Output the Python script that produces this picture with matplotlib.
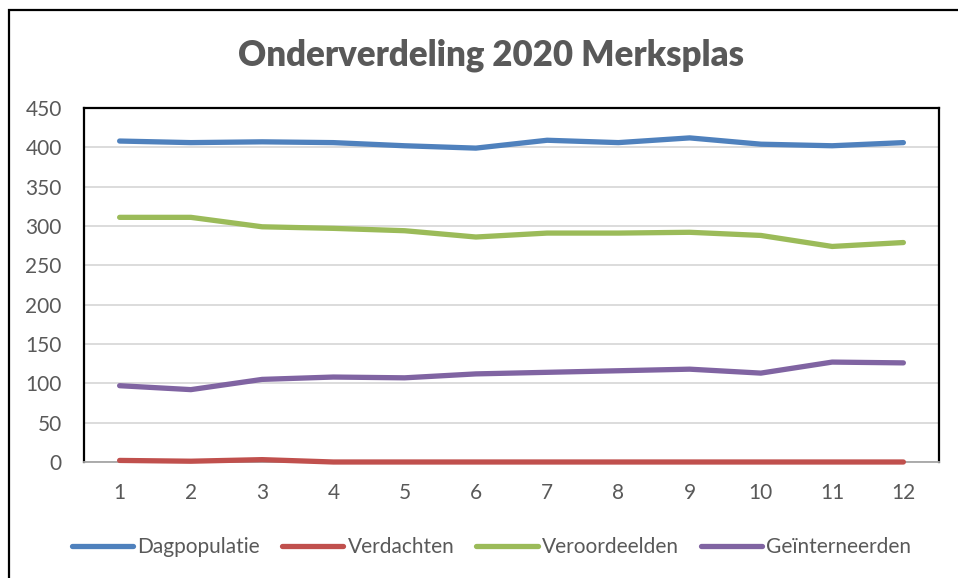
import numpy as np
import matplotlib.pyplot as plt
from matplotlib.patches import Rectangle

plt.rcParams['font.family'] = ['Lato', 'DejaVu Sans']

maanden = list(range(1, 13))
dagpopulatie = [408, 406, 407, 406, 402, 399, 409, 406, 412, 404, 402, 406]
verdachten = [2, 1, 3, 0, 0, 0, 0, 0, 0, 0, 0, 0]
veroordeelden = [311, 311, 299, 297, 294, 286, 291, 291, 292, 288, 274, 279]
geinterneerden = [97, 92, 105, 108, 107, 112, 114, 116, 118, 113, 127, 126]

reeksen = [
    ("Dagpopulatie", dagpopulatie, "#4F81BD"),
    ("Verdachten", verdachten, "#C0504D"),
    ("Veroordeelden", veroordeelden, "#9BBB59"),
    ("Geïnterneerden", geinterneerden, "#8064A2"),
]

W, H = 958, 578
fig = plt.figure(figsize=(W / 100, H / 100), dpi=100)
ax = fig.add_axes([84 / W, 1 - 462 / H, (939 - 84) / W, (462 - 108) / H])

for naam, waarden, kleur in reeksen:
    ax.plot(maanden, waarden, color=kleur, lw=3.8, solid_capstyle='round',
            solid_joinstyle='round', label=naam, zorder=3, clip_on=False)

ax.set_xlim(0.5, 12.5)
ax.set_ylim(0, 450)
ax.set_xticks(maanden)
ax.set_yticks(np.arange(0, 451, 50))
ax.grid(axis='y', color='#d9d9d9', lw=1.3, zorder=0)
ax.tick_params(length=0, labelsize=15, labelcolor='#595959')
ax.tick_params(axis='x', pad=15)
ax.tick_params(axis='y', pad=16)

for kant in ['left', 'top', 'right']:
    ax.spines[kant].set_color('black')
    ax.spines[kant].set_linewidth(1.6)
ax.spines['bottom'].set_color('#a6a6a6')
ax.spines['bottom'].set_linewidth(1.3)

fig.text(0.513, 1 - 55 / H, "Onderverdeling 2020 Merksplas", ha='center', va='center',
         fontsize=25, fontweight='heavy', color='#595959')

fig.legend(loc='center', bbox_to_anchor=(0.513, 1 - 547 / H), ncol=4, frameon=False,
           fontsize=15, labelcolor='#595959', handlelength=2.95, handletextpad=0.2,
           columnspacing=1.05)

fig.patches.append(Rectangle((8.5 / W, -0.1), 1.2, 1.1 - 9.5 / H, transform=fig.transFigure,
                             fill=False, edgecolor='black', lw=1.6))

fig.savefig("out.png", dpi=100)
